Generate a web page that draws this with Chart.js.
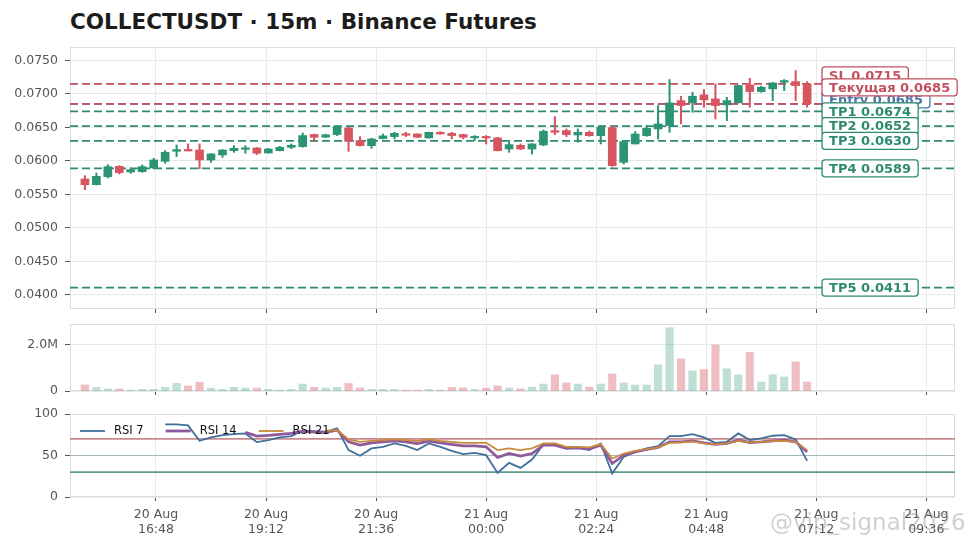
<!DOCTYPE html>
<html>
<head>
<meta charset="utf-8">
<script src="https://cdn.jsdelivr.net/npm/chart.js@4.4.1/dist/chart.umd.min.js"></script>
<style>
html, body { margin: 0; padding: 0; background: #fff; }
body { width: 971px; height: 548px; position: relative; overflow: hidden; font-family: "DejaVu Sans", sans-serif; }
#title { position: absolute; left: 70px; top: 11px; font-size: 21.5px; line-height: 21.5px; font-weight: bold; color: #1c1c1c; white-space: nowrap; }
canvas { position: absolute; left: 0; }
#wm { position: absolute; left: 770px; top: 508px; font-size: 23px; line-height: 28px; color: rgba(150,150,150,0.45); white-space: nowrap; }
</style>
</head>
<body>
<div id="title">COLLECTUSDT · 15m · Binance Futures</div>
<canvas id="price" width="971" height="316" style="top:0;width:971px;height:316px"></canvas>
<canvas id="volume" width="971" height="82" style="top:316px;width:971px;height:82px"></canvas>
<canvas id="rsi" width="971" height="150" style="top:398px;width:971px;height:150px"></canvas>
<div id="wm">@vip_signal2026</div>
<script>
// 15m candles, first one 20 Aug 15:15
const startDay = 20;
const startTime = "15:15";
const opens  = [0.05730,0.05645,0.05765,0.05919,0.05835,0.05840,0.05895,0.05994,0.06144,0.06169,0.06163,0.06014,0.06089,0.06153,0.06173,0.06193,
                0.06119,0.06153,0.06203,0.06213,0.06393,0.06355,0.06393,0.06492,0.06303,0.06228,0.06333,0.06363,0.06402,0.06402,0.06343,0.06427,
                0.06412,0.06393,0.06343,0.06363,0.06343,0.06178,0.06233,0.06178,0.06238,0.06452,0.06452,0.06387,0.06427,0.06377,0.06497,0.05979,
                0.06253,0.06377,0.06477,0.06527,0.06900,0.06866,0.06985,0.06925,0.06836,0.06866,0.07134,0.07035,0.07075,0.07174,0.07184,0.07149];
const highs  = [0.05780,0.05820,0.05944,0.05929,0.05895,0.05939,0.06039,0.06154,0.06238,0.06253,0.06253,0.06110,0.06170,0.06228,0.06228,0.06200,
                0.06188,0.06218,0.06253,0.06417,0.06402,0.06400,0.06527,0.06502,0.06363,0.06338,0.06402,0.06427,0.06427,0.06405,0.06430,0.06437,
                0.06427,0.06400,0.06378,0.06378,0.06353,0.06278,0.06253,0.06258,0.06462,0.06661,0.06477,0.06477,0.06447,0.06527,0.06527,0.06303,
                0.06437,0.06527,0.06826,0.07214,0.06965,0.07025,0.07065,0.07149,0.06950,0.07134,0.07234,0.07115,0.07170,0.07214,0.07348,0.07184];
const lows   = [0.05571,0.05640,0.05745,0.05805,0.05815,0.05830,0.05880,0.05964,0.06064,0.06149,0.05880,0.05979,0.06054,0.06129,0.06114,0.06094,
                0.06114,0.06150,0.06183,0.06203,0.06288,0.06350,0.06378,0.06143,0.06220,0.06188,0.06328,0.06328,0.06363,0.06350,0.06340,0.06400,
                0.06328,0.06328,0.06303,0.06253,0.06148,0.06129,0.06168,0.06104,0.06228,0.06393,0.06363,0.06278,0.06367,0.06253,0.05919,0.05954,
                0.06253,0.06367,0.06328,0.06427,0.06552,0.06726,0.06801,0.06626,0.06601,0.06866,0.06801,0.07025,0.06900,0.07050,0.06900,0.06801];
const closes = [0.05645,0.05770,0.05914,0.05825,0.05870,0.05914,0.06014,0.06129,0.06169,0.06149,0.06014,0.06104,0.06163,0.06188,0.06188,0.06114,
                0.06178,0.06203,0.06233,0.06378,0.06353,0.06390,0.06512,0.06293,0.06228,0.06328,0.06373,0.06412,0.06383,0.06353,0.06427,0.06402,
                0.06378,0.06353,0.06363,0.06343,0.06153,0.06243,0.06178,0.06253,0.06442,0.06427,0.06393,0.06427,0.06377,0.06502,0.05929,0.06288,
                0.06402,0.06487,0.06552,0.06866,0.06826,0.06965,0.06910,0.06826,0.06900,0.07125,0.07035,0.07100,0.07164,0.07199,0.07124,0.06850];
// volume in millions
const volumes = [0.26,0.16,0.09,0.09,0.04,0.07,0.07,0.16,0.33,0.22,0.38,0.12,0.07,0.16,0.12,0.12,
                 0.07,0.04,0.07,0.30,0.16,0.12,0.16,0.33,0.13,0.07,0.07,0.07,0.04,0.04,0.07,0.04,
                 0.16,0.13,0.07,0.12,0.22,0.13,0.09,0.17,0.30,0.70,0.35,0.30,0.17,0.30,0.74,0.35,
                 0.26,0.26,1.13,2.74,1.39,0.87,0.93,1.99,0.96,0.70,1.67,0.39,0.70,0.61,1.26,0.39];
// RSI series, each starts at candle index = its period
const rsi7 = [87.5,87.5,86.3,67.7,71.8,74.6,75.8,76.6,66.1,68.5,71.8,73.4,79.8,79.4,78.6,82.7,56.5,49.6,58.5,60.5,
              64.5,61.7,56.5,64.5,60.5,55.6,51.6,53.2,50.4,29.0,41.1,35.1,45.2,63.3,63.3,58.5,59.3,56.5,64.5,28.2,
              48.4,54.4,58.5,61.3,73.4,73.4,75.8,71.8,65.3,66.5,76.6,68.5,70.6,73.8,74.6,69.4,43.5];
const rsi14 = [77.8,73.4,74.2,75.4,76.6,79.4,78.2,77.8,80.6,66.5,62.5,65.3,66.5,67.7,66.5,64.5,67.3,65.3,63.3,61.7,
               61.7,60.5,47.6,52.4,49.2,52.4,62.5,62.5,58.5,59.3,58.1,62.5,40.3,50.4,54.4,57.3,59.7,66.5,66.5,67.7,
               65.3,63.3,64.5,68.5,65.7,66.5,67.7,68.5,66.5,54.4];
const rsi21 = [79.8,80.6,69.4,66.5,67.7,68.5,69.4,68.5,67.7,69.4,67.7,66.5,65.3,65.3,65.3,56.5,58.5,56.5,58.5,64.5,
               64.5,60.5,60.5,59.7,63.7,46.4,52.4,55.6,57.7,59.7,65.3,65.7,66.9,64.5,63.3,64.5,67.7,65.7,66.5,67.3,
               67.7,66.5,56.5];
const rsiLevels = [70, 50, 30];
// trade levels
const levelNames  = ["SL", "Entry", "Текущая", "TP1", "TP2", "TP3", "TP4", "TP5"];
const levelValues = [0.0715, 0.0685, 0.0685, 0.0674, 0.0652, 0.0630, 0.0589, 0.0411];
// ticks
const priceTicks = [0.040, 0.045, 0.050, 0.055, 0.060, 0.065, 0.070, 0.075];
const volumeTicks = [0, 2000000];
const rsiTicks = [0, 50, 100];
const xTickLabels = [["20 Aug","16:48"],["20 Aug","19:12"],["20 Aug","21:36"],["21 Aug","00:00"],
                     ["21 Aug","02:24"],["21 Aug","04:48"],["21 Aug","07:12"],["21 Aug","09:36"]];

const UP = "#2b9474", DOWN = "#d6555f";
const RED_LVL = "#c4505f", GREEN_LVL = "#2e8a70", BLUE_LVL = "#4a76a8";
const GRID = "#e6eaed";

function toIndex(day, hm) {
  const [h, m] = hm.split(":").map(Number);
  const [h0, m0] = startTime.split(":").map(Number);
  return ((day - startDay) * 1440 + h * 60 + m - (h0 * 60 + m0)) / 15;
}
const xTickPos = xTickLabels.map(l => toIndex(parseInt(l[0]), l[1]));
const xMin = -1.3, xMax = 75.9;
const idx = opens.map((_, i) => i);
const candleColors = idx.map(i => closes[i] >= opens[i] ? UP : DOWN);
const volColors = idx.map(i => closes[i] >= opens[i] ? "rgba(43,148,116,0.3)" : "rgba(214,85,95,0.38)");

Chart.defaults.font.family = "'DejaVu Sans', sans-serif";
Chart.defaults.font.size = 12.5;
Chart.defaults.color = "#555";

function xAxis(showLabels, h) {
  return {
    type: "linear", min: xMin, max: xMax, offset: false,
    grid: { color: GRID, tickLength: 4, tickColor: "#555", offset: false },
    border: { display: false },
    ticks: { display: showLabels, padding: 6, maxRotation: 0, autoSkip: false, color: "#555",
             callback: (v, i) => xTickLabels[i] },
    afterBuildTicks: s => { s.ticks = xTickPos.map(v => ({ value: v })); },
    afterFit: s => { s.height = h; s.paddingLeft = 0; s.paddingRight = 0; }
  };
}
function yAxis(min, max, ticks, fmt) {
  return {
    position: "left", min, max,
    grid: { color: GRID, tickLength: 5, tickColor: "#555" },
    border: { display: false },
    ticks: { padding: 7, autoSkip: false, color: "#555", callback: v => fmt(v) },
    afterBuildTicks: s => { s.ticks = ticks.map(v => ({ value: v })); },
    afterFit: s => { s.width = 70; s.paddingTop = 0; s.paddingBottom = 0; }
  };
}

const framePlugin = {
  id: "frame",
  beforeDatasetsDraw(chart) {
    const { ctx, chartArea: a } = chart;
    ctx.save();
    ctx.strokeStyle = "#d8dde1";
    ctx.lineWidth = 1;
    ctx.strokeRect(Math.round(a.left) + 0.5, Math.round(a.top) + 0.5, Math.round(a.right - a.left) - 1, Math.round(a.bottom - a.top) - 1);
    ctx.restore();
  }
};

function levelColor(name) {
  if (name === "Entry") return BLUE_LVL;
  if (name.startsWith("TP")) return GREEN_LVL;
  return RED_LVL;
}

const levelLabelPlugin = {
  id: "levelLabels",
  afterDatasetsDraw(chart) {
    const { ctx } = chart;
    const xs = chart.scales.x, ys = chart.scales.y;
    const left = xs.getPixelForValue(opens.length + 0.3);
    const items = levelNames.map((n, i) => ({ n, i, y: ys.getPixelForValue(levelValues[i]) }));
    // push overlapping labels upward, starting from the lowest one
    const sorted = items.slice().sort((a, b) => b.y - a.y);
    let prev = Infinity;
    sorted.forEach(it => { it.py = Math.min(it.y, prev - 12); prev = it.py; });
    ctx.save();
    ctx.font = "bold 13px 'DejaVu Sans'";
    ctx.textBaseline = "middle";
    items.forEach(it => {
      const text = it.n + " " + levelValues[it.i].toFixed(4);
      const w = ctx.measureText(text).width + 14, h = 17;
      const c = levelColor(it.n);
      ctx.beginPath();
      ctx.roundRect(left, it.py - h / 2, w, h, 3);
      ctx.fillStyle = "#fff";
      ctx.fill();
      ctx.strokeStyle = c;
      ctx.lineWidth = 1.3;
      ctx.stroke();
      ctx.fillStyle = c;
      ctx.fillText(text, left + 7, it.py + 1);
    });
    ctx.restore();
  }
};

const levelDatasets = levelNames.map((n, i) => ({
  type: "line",
  data: [{ x: xMin, y: levelValues[i] }, { x: xMax, y: levelValues[i] }],
  borderColor: levelColor(n),
  borderWidth: 1.8,
  borderDash: [8, 4],
  pointRadius: 0,
  order: n === "Entry" ? 6 : 5
}));

new Chart(document.getElementById("price"), {
  type: "bar",
  data: {
    datasets: [
      ...levelDatasets,
      { type: "bar", data: idx.map(i => ({ x: i, y: [lows[i], highs[i]] })), backgroundColor: candleColors,
        grouped: false, barThickness: 1.4, barPercentage: 1.4 / 11.46, categoryPercentage: 1, order: 2 },
      { type: "bar", data: idx.map(i => ({ x: i, y: [opens[i], closes[i]] })), backgroundColor: candleColors,
        grouped: false, barThickness: 8, barPercentage: 8 / 11.46, categoryPercentage: 1, minBarLength: 1.5, order: 1 }
    ]
  },
  options: {
    responsive: false, animation: false,
    layout: { padding: { top: 47, right: 16, bottom: 0, left: 0 } },
    plugins: { legend: { display: false }, tooltip: { enabled: false } },
    scales: {
      x: xAxis(false, 7),
      y: yAxis(0.0379, 0.0770, priceTicks, v => v.toFixed(4))
    }
  },
  plugins: [framePlugin, levelLabelPlugin]
});

new Chart(document.getElementById("volume"), {
  type: "bar",
  data: {
    datasets: [{ data: idx.map(i => ({ x: i, y: volumes[i] * 1e6 })), backgroundColor: volColors,
                 barThickness: 7.5, barPercentage: 7.5 / 11.46, categoryPercentage: 1 }]
  },
  options: {
    responsive: false, animation: false,
    layout: { padding: { top: 8, right: 16, bottom: 0, left: 0 } },
    plugins: { legend: { display: false }, tooltip: { enabled: false } },
    scales: {
      x: xAxis(false, 7),
      y: yAxis(0, 2.9e6, volumeTicks, v => v === 0 ? "0" : (v / 1e6).toFixed(1) + "M")
    }
  },
  plugins: [framePlugin]
});

const rsiSeries = [
  { label: "RSI 7", period: 7, values: rsi7, color: "#3f6f9b", width: 1.8, order: 3 },
  { label: "RSI 14", period: 14, values: rsi14, color: "#8c5a9d", width: 2.8, order: 2 },
  { label: "RSI 21", period: 21, values: rsi21, color: "#c98a3c", width: 1.8, order: 1 }
];
const rsiLevelColors = ["#c98a8d", "#a3b9bb", "#5f9c8f"];

const rsiLegendPlugin = {
  id: "rsiLegend",
  afterDraw(chart) {
    const { ctx, chartArea: a } = chart;
    const y = a.top + 17;
    let x = a.left + 10;
    ctx.save();
    ctx.font = "11.5px 'DejaVu Sans'";
    ctx.textBaseline = "middle";
    rsiSeries.forEach(s => {
      ctx.beginPath();
      ctx.moveTo(x, y);
      ctx.lineTo(x + 25, y);
      ctx.strokeStyle = s.color;
      ctx.lineWidth = s.width;
      ctx.stroke();
      ctx.fillStyle = "#111";
      ctx.fillText(s.label, x + 34, y);
      x += 34 + ctx.measureText(s.label).width + 22;
    });
    ctx.restore();
  }
};

new Chart(document.getElementById("rsi"), {
  type: "line",
  data: {
    datasets: [
      ...rsiLevels.map((v, i) => ({
        data: [{ x: xMin, y: v }, { x: xMax, y: v }], borderColor: rsiLevelColors[i],
        borderWidth: i === 1 ? 1.2 : 1.6, pointRadius: 0, order: 10
      })),
      ...rsiSeries.map(s => ({
        label: s.label,
        data: s.values.map((v, k) => ({ x: s.period + k, y: v })),
        borderColor: s.color, borderWidth: s.width, pointRadius: 0, tension: 0, order: s.order
      }))
    ]
  },
  options: {
    responsive: false, animation: false,
    layout: { padding: { top: 16, right: 16, bottom: 0, left: 0 } },
    plugins: { legend: { display: false }, tooltip: { enabled: false } },
    scales: {
      x: xAxis(true, 51),
      y: yAxis(0, 100, rsiTicks, v => String(v))
    }
  },
  plugins: [framePlugin, rsiLegendPlugin]
});
</script>
</body>
</html>
